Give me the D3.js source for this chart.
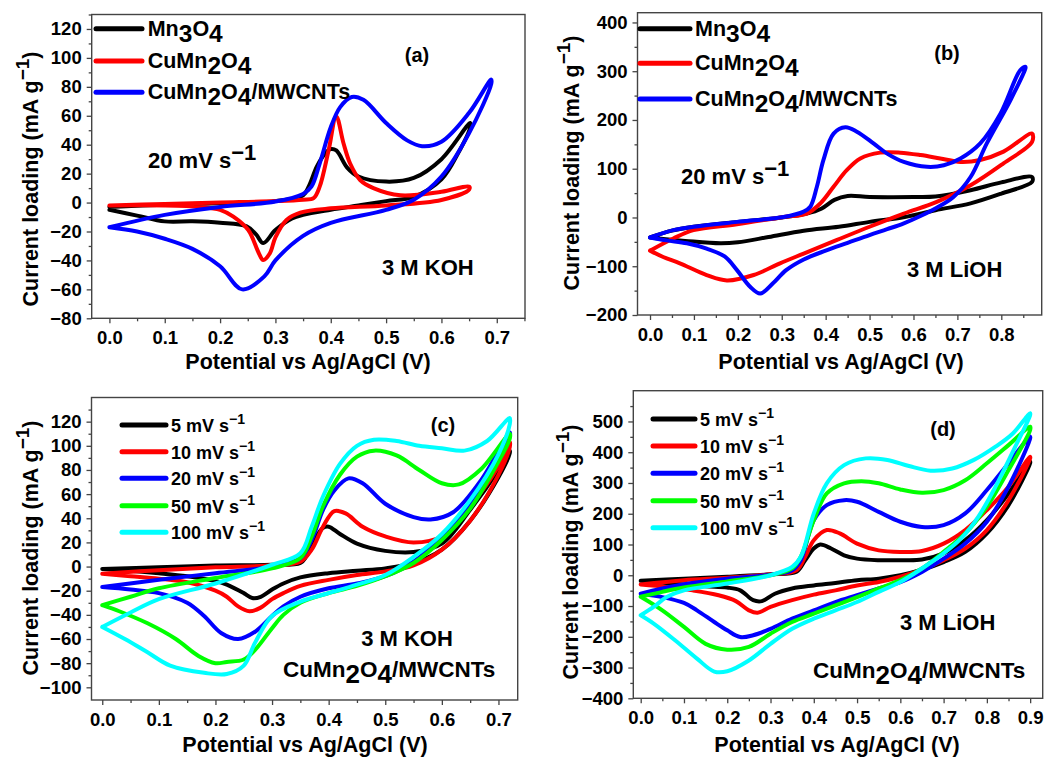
<!DOCTYPE html>
<html>
<head>
<meta charset="utf-8">
<script src="https://cdn.jsdelivr.net/npm/d3@7"></script>
<style>
body { margin: 0; background: #fff; }
text { font-family: "Liberation Sans", Arial, sans-serif; font-weight: bold; fill: #000; }
</style>
</head>
<body>
<div id="canvas"></div>
<script>
// ---- data: each loop is anodic sweep (0 -> Vmax) then cathodic sweep back, [V, mA/g]
var aMn3O4 = [[0,-3],[0.1,-1.5],[0.2,-0.5],[0.3,1],[0.35,5],[0.36,11],[0.375,25],[0.39,34],[0.4,37],[0.41,36],[0.43,24],[0.45,18],[0.5,14.5],[0.55,17],[0.6,30],[0.652,55],
	[0.652,52],[0.63,34],[0.6,16],[0.55,4],[0.5,1],[0.45,-2],[0.4,-5],[0.35,-8.5],[0.33,-11],[0.3,-19],[0.278,-28],[0.265,-22],[0.248,-16.5],[0.2,-14],[0.15,-13],[0.1,-13],[0.05,-9],[0,-5]];
var aCuMn2O4 = [[0,-2],[0.1,-1],[0.2,0],[0.3,1],[0.35,2],[0.369,3],[0.38,11],[0.396,36],[0.41,59.5],[0.423,41],[0.435,27],[0.453,15.6],[0.477,10],[0.526,5],[0.6,7.5],[0.65,11],
	[0.65,9],[0.6,1.8],[0.5,-2],[0.4,-4],[0.345,-7],[0.32,-12],[0.3,-24],[0.29,-35],[0.278,-39.7],[0.27,-35],[0.251,-19],[0.224,-9.7],[0.2,-5],[0.164,-3],[0.1,-2],[0,-2]];
var aComposite = [[0,-17],[0.1,-8.5],[0.2,-3],[0.3,0.7],[0.35,6],[0.365,11],[0.38,27],[0.4,52],[0.417,66],[0.438,73],[0.459,71],[0.5,55],[0.538,43],[0.565,39],[0.6,42],[0.65,62],[0.69,85],
	[0.69,82],[0.65,48],[0.6,18],[0.55,2],[0.5,-5],[0.4,-14],[0.35,-23],[0.3,-40],[0.28,-51],[0.24,-60],[0.2,-44],[0.15,-32],[0.1,-25],[0.05,-20],[0,-17]];

var bMn3O4 = [[0,-41],[0.05,-27],[0.1,-19],[0.2,-9],[0.3,0],[0.357,8],[0.39,18],[0.42,36],[0.45,44],[0.5,42],[0.6,42],[0.65,43],[0.73,56],[0.8,72],[0.87,83],
	[0.87,73],[0.8,49],[0.73,29],[0.65,15],[0.58,1],[0.5,-9],[0.43,-19],[0.35,-27],[0.27,-40],[0.2,-51],[0.16,-53],[0.08,-48],[0.03,-44],[0,-41]];
var bCuMn2O4 = [[0,-68],[0.053,-43],[0.099,-26],[0.198,-14],[0.304,1],[0.357,8],[0.388,29],[0.418,63],[0.448,97],[0.479,121],[0.524,133],[0.57,133],[0.616,128],[0.661,121],[0.707,114],[0.752,118],[0.805,135],[0.87,172],
	[0.87,155],[0.805,111],[0.73,66],[0.653,32],[0.578,8],[0.5,-19],[0.426,-46],[0.35,-74],[0.296,-94],[0.236,-118],[0.175,-129],[0.129,-118],[0.068,-94],[0.03,-81],[0,-68]];
var bComposite = [[0,-41],[0.053,-26],[0.099,-19],[0.198,-9],[0.304,1],[0.35,12],[0.365,22],[0.38,63],[0.395,118],[0.418,172],[0.445,185],[0.471,176],[0.509,152],[0.54,131],[0.578,114],[0.631,104],[0.669,107],[0.707,121],[0.752,152],[0.798,213],[0.843,302],[0.855,309],
	[0.855,306],[0.821,241],[0.767,152],[0.73,83],[0.691,42],[0.653,20],[0.616,3],[0.578,-12],[0.54,-24],[0.5,-36],[0.45,-52],[0.4,-68],[0.35,-86],[0.31,-108],[0.28,-135],[0.251,-156],[0.228,-142],[0.198,-108],[0.17,-80],[0.129,-64],[0.084,-53],[0.038,-47],[0,-41]];

var cScan5 = [[0,-2],[0.1,-0.5],[0.2,0.8],[0.3,1.4],[0.35,3],[0.36,8],[0.375,22],[0.39,32],[0.4,33],[0.42,27],[0.45,19],[0.5,13],[0.55,12],[0.6,19],[0.65,47],[0.7,80],[0.72,96],
	[0.72,94],[0.7,74],[0.65,38],[0.6,14],[0.55,3],[0.5,-1.5],[0.45,-3.5],[0.4,-5.5],[0.35,-9],[0.32,-14],[0.3,-19],[0.28,-25],[0.265,-26],[0.25,-22],[0.22,-15],[0.2,-12],[0.15,-8],[0.1,-5.5],[0.05,-3.5],[0,-2]];
var cScan10 = [[0,-6],[0.1,-3],[0.2,-0.6],[0.3,1],[0.35,4],[0.37,14],[0.39,33],[0.41,46],[0.43,44],[0.46,33],[0.5,25],[0.55,20],[0.6,25],[0.65,50],[0.7,83],[0.72,103],
	[0.72,99],[0.7,76],[0.65,38],[0.6,14],[0.55,1],[0.5,-4],[0.45,-7],[0.4,-11],[0.35,-16],[0.32,-22],[0.3,-27],[0.28,-34],[0.26,-37],[0.24,-33],[0.22,-25],[0.2,-20],[0.15,-13],[0.1,-10],[0.05,-8],[0,-6]];
var cScan20 = [[0,-17],[0.1,-11],[0.2,-5.5],[0.3,0],[0.35,7],[0.37,22],[0.39,47],[0.41,63],[0.435,73],[0.46,69],[0.5,52],[0.55,41],[0.58,39],[0.62,45],[0.67,72],[0.72,111],
	[0.72,108],[0.7,91],[0.65,52],[0.6,25],[0.55,4],[0.5,-8],[0.45,-14],[0.4,-18],[0.35,-25],[0.32,-33],[0.3,-41],[0.27,-54],[0.24,-60],[0.21,-55],[0.18,-41],[0.15,-30],[0.1,-22],[0.05,-19],[0,-17]];
var cScan50 = [[0,-32],[0.05,-25],[0.1,-18],[0.2,-9.5],[0.3,-1.5],[0.35,7],[0.37,25],[0.39,50],[0.42,76],[0.45,91],[0.48,96],[0.52,92],[0.56,80],[0.6,69],[0.63,68],[0.67,81],[0.72,110],
	[0.72,106],[0.7,87],[0.65,48],[0.6,22],[0.55,3],[0.5,-8],[0.45,-16],[0.4,-22],[0.35,-30],[0.32,-40],[0.3,-51],[0.27,-69],[0.25,-77],[0.22,-79],[0.2,-80],[0.17,-74],[0.13,-60],[0.08,-47],[0.03,-37],[0,-32]];
var cScan100 = [[0,-50],[0.05,-38],[0.1,-27],[0.2,-14],[0.3,1.5],[0.35,11],[0.37,33],[0.39,58],[0.42,85],[0.45,100],[0.48,105],[0.52,104],[0.56,100],[0.6,98],[0.64,96],[0.68,104],[0.72,123],
	[0.72,118],[0.7,93],[0.65,55],[0.6,27],[0.55,8],[0.5,-7],[0.45,-15],[0.4,-22],[0.35,-29],[0.3,-41],[0.27,-63],[0.25,-82],[0.22,-89],[0.18,-88],[0.12,-82],[0.08,-71],[0.04,-60],[0,-50]];

var dScan5 = [[0,-18],[0.1,-11],[0.2,-5],[0.3,3],[0.36,11],[0.38,49],[0.4,87],[0.415,100],[0.44,87],[0.47,65],[0.5,54],[0.55,49],[0.6,49],[0.65,51],[0.7,71],[0.75,114],[0.8,179],[0.85,266],[0.9,369],
	[0.9,365],[0.85,228],[0.8,136],[0.75,76],[0.7,43],[0.65,18],[0.6,0],[0.55,-11],[0.5,-16],[0.45,-25],[0.4,-33],[0.35,-43],[0.31,-60],[0.28,-84],[0.26,-81],[0.23,-49],[0.2,-40],[0.15,-36],[0.1,-30],[0.05,-24],[0,-18]];
var dScan10 = [[0,-30],[0.1,-16],[0.2,-8],[0.3,3],[0.36,16],[0.38,60],[0.4,114],[0.43,147],[0.46,136],[0.5,103],[0.55,81],[0.6,76],[0.65,79],[0.7,103],[0.75,147],[0.8,212],[0.85,288],[0.9,385],
	[0.9,380],[0.85,244],[0.8,147],[0.75,87],[0.7,49],[0.65,18],[0.6,-5],[0.55,-22],[0.5,-33],[0.45,-49],[0.4,-63],[0.35,-81],[0.3,-103],[0.27,-122],[0.25,-114],[0.22,-84],[0.18,-65],[0.12,-49],[0.06,-38],[0,-30]];
var dScan20 = [[0,-60],[0.05,-43],[0.1,-29],[0.2,-11],[0.3,2],[0.35,16],[0.37,49],[0.4,179],[0.43,228],[0.47,244],[0.5,239],[0.55,206],[0.6,174],[0.65,157],[0.7,163],[0.75,201],[0.8,277],[0.85,364],[0.9,451],
	[0.9,445],[0.85,288],[0.8,174],[0.75,103],[0.7,54],[0.65,11],[0.6,-22],[0.55,-43],[0.5,-65],[0.45,-87],[0.4,-114],[0.35,-141],[0.3,-174],[0.26,-195],[0.23,-201],[0.2,-179],[0.17,-152],[0.13,-114],[0.1,-90],[0.05,-71],[0,-60]];
var dScan50 = [[0,-70],[0.05,-54],[0.1,-40],[0.2,-20],[0.3,0],[0.35,22],[0.37,60],[0.4,179],[0.43,266],[0.47,299],[0.51,306],[0.55,299],[0.6,279],[0.65,268],[0.7,277],[0.75,309],[0.8,364],[0.85,423],[0.9,483],
	[0.9,472],[0.85,342],[0.8,223],[0.75,136],[0.7,76],[0.65,22],[0.6,-16],[0.55,-43],[0.5,-71],[0.45,-98],[0.4,-125],[0.35,-152],[0.3,-190],[0.25,-233],[0.2,-242],[0.15,-223],[0.1,-168],[0.05,-114],[0,-70]];
var dScan100 = [[0,-130],[0.03,-103],[0.06,-71],[0.1,-49],[0.2,-27],[0.3,0],[0.35,27],[0.37,60],[0.4,201],[0.43,299],[0.47,358],[0.52,380],[0.57,375],[0.62,355],[0.67,340],[0.72,347],[0.77,375],[0.82,418],[0.86,461],[0.9,527],
	[0.9,521],[0.86,402],[0.82,288],[0.78,190],[0.74,119],[0.7,71],[0.65,22],[0.6,-22],[0.55,-54],[0.5,-87],[0.45,-114],[0.4,-141],[0.35,-174],[0.3,-223],[0.25,-277],[0.2,-312],[0.17,-313],[0.13,-271],[0.08,-212],[0.03,-157],[0,-130]];

// legends and tick labels
var materialNames = ["Mn_3O_4", "CuMn_2O_4", "CuMn_2O_4/MWCNTs"];
var scanNames = ["5 mV s^{−1}", "10 mV s^{−1}", "20 mV s^{−1}", "50 mV s^{−1}", "100 mV s^{−1}"];
var materialColors = ["#000000", "#ff0000", "#0000ff"];
var scanColors = ["#000000", "#ff0000", "#0000ff", "#00ff00", "#00ffff"];

var aXTicks = [0, 0.1, 0.2, 0.3, 0.4, 0.5, 0.6, 0.7];
var aYTicks = [-80, -60, -40, -20, 0, 20, 40, 60, 80, 100, 120];
var bXTicks = [0, 0.1, 0.2, 0.3, 0.4, 0.5, 0.6, 0.7, 0.8];
var bYTicks = [-200, -100, 0, 100, 200, 300, 400];
var cXTicks = [0, 0.1, 0.2, 0.3, 0.4, 0.5, 0.6, 0.7];
var cYTicks = [-100, -80, -60, -40, -20, 0, 20, 40, 60, 80, 100, 120];
var dXTicks = [0, 0.1, 0.2, 0.3, 0.4, 0.5, 0.6, 0.7, 0.8, 0.9];
var dYTicks = [-400, -300, -200, -100, 0, 100, 200, 300, 400, 500];

var xTitle = "Potential vs Ag/AgCl (V)";
var yTitle = "Current loading (mA g^{−1})";

var svg = d3.select("#canvas")
	.append("svg")
	.attr("width", 1045)
	.attr("height", 758);

svg.append("rect").attr("width", 1045).attr("height", 758).attr("fill", "#fff");

var panels = [
	{ left: 91.7, right: 525, top: 14.5, bottom: 318.3, xDom: [-0.032, 0.751], yDom: [-80, 130],
	  xTicks: aXTicks, yTicks: aYTicks, xMinor: 0.05, yMinor: 10,
	  series: [aMn3O4, aCuMn2O4, aComposite], colors: materialColors,
	  yTitleX: 38, yTitleY: 179, xTitleX: 308, xTitleY: 369 },
	{ left: 637.5, right: 1041.7, top: 12.7, bottom: 315, xDom: [-0.0285, 0.892], yDom: [-200, 420],
	  xTicks: bXTicks, yTicks: bYTicks, xMinor: 0.05, yMinor: 50,
	  series: [bMn3O4, bCuMn2O4, bComposite], colors: materialColors,
	  yTitleX: 579, yTitleY: 163, xTitleX: 841, xTitleY: 369 },
	{ left: 91.5, right: 517.7, top: 397.5, bottom: 700, xDom: [-0.019, 0.734], yDom: [-110.5, 140],
	  xTicks: cXTicks, yTicks: cYTicks, xMinor: 0.05, yMinor: 10,
	  series: [cScan5, cScan10, cScan20, cScan50, cScan100], colors: scanColors,
	  yTitleX: 38, yTitleY: 548, xTitleX: 305, xTitleY: 752 },
	{ left: 633.3, right: 1042.7, top: 390.7, bottom: 698.3, xDom: [-0.0171, 0.929], yDom: [-400, 600],
	  xTicks: dXTicks, yTicks: dYTicks, xMinor: 0.05, yMinor: 50,
	  series: [dScan5, dScan10, dScan20, dScan50, dScan100], colors: scanColors,
	  yTitleX: 578, yTitleY: 552, xTitleX: 837, xTitleY: 752 }
];

// text with _x subscripts and ^{..} superscripts
function richText(textSel, str, subDy, supDy, supSize, subSize) {
	var re = /_(\{[^}]*\}|.)|\^(\{[^}]*\}|.)|[^_^]+/g;
	var m, shift = 0;
	while ((m = re.exec(str)) !== null) {
		var kind = "n", s = m[0];
		if (m[1] !== undefined) { kind = "sub"; s = m[1]; }
		else if (m[2] !== undefined) { kind = "sup"; s = m[2]; }
		s = s.replace(/^\{/, "").replace(/\}$/, "");
		var target = kind === "sub" ? subDy : (kind === "sup" ? -supDy : 0);
		var t = textSel.append("tspan").text(s).attr("dy", target - shift);
		if (kind === "sup" && supSize) t.attr("font-size", supSize);
		if (kind === "sub" && subSize) t.attr("font-size", subSize);
		shift = target;
	}
	return textSel;
}

function addText(x, y, str, size, anchor, subDy, supDy, supSize, subSize) {
	var t = svg.append("text")
		.attr("x", x)
		.attr("y", y)
		.attr("font-size", size)
		.attr("text-anchor", anchor || "start");
	return richText(t, str, subDy || 0, supDy || 0, supSize, subSize);
}

function drawPanel(p) {
	var g = svg.append("g");
	var x = d3.scaleLinear().domain(p.xDom).range([p.left, p.right]);
	var y = d3.scaleLinear().domain(p.yDom).range([p.bottom, p.top]);

	var xMinorTicks = d3.range(p.xTicks[0] + p.xMinor, p.xDom[1], p.xMinor * 2);
	var yMinorTicks = d3.range(p.yTicks[0] + p.yMinor, p.yDom[1] + 0.01, p.yMinor * 2);

	// minor ticks
	g.append("g")
		.attr("transform", "translate(0," + p.bottom + ")")
		.call(d3.axisBottom(x).tickValues(xMinorTicks).tickSize(3).tickFormat(""));
	g.append("g")
		.attr("transform", "translate(" + p.left + ",0)")
		.call(d3.axisLeft(y).tickValues(yMinorTicks).tickSize(3).tickFormat(""));

	// major ticks
	g.append("g")
		.attr("class", "xaxis")
		.attr("transform", "translate(0," + p.bottom + ")")
		.call(d3.axisBottom(x).tickValues(p.xTicks).tickSize(5).tickPadding(8).tickFormat(d3.format(".1f")));
	g.append("g")
		.attr("class", "yaxis")
		.attr("transform", "translate(" + p.left + ",0)")
		.call(d3.axisLeft(y).tickValues(p.yTicks).tickSize(5).tickPadding(5).tickFormat(d3.format("d")));

	g.selectAll(".domain").remove();
	g.selectAll(".tick line").attr("stroke", "#444").attr("stroke-width", 1.3);
	g.selectAll(".tick text")
		.attr("font-size", 18.5)
		.attr("font-family", "'Liberation Sans', Arial, sans-serif")
		.attr("font-weight", "bold")
		.attr("fill", "#000");

	// curves
	var line = d3.line()
		.x(function(d){ return x(d[0]); })
		.y(function(d){ return y(d[1]); })
		.curve(d3.curveCatmullRom.alpha(0.5));

	g.selectAll("path.cv")
		.data(p.series)
		.enter()
		.append("path")
		.attr("class", "cv")
		.attr("d", line)
		.attr("fill", "none")
		.attr("stroke", function(d, i){ return p.colors[i]; })
		.attr("stroke-width", 4)
		.attr("stroke-linejoin", "round")
		.attr("stroke-linecap", "round");

	// frame
	g.append("rect")
		.attr("x", p.left)
		.attr("y", p.top)
		.attr("width", p.right - p.left)
		.attr("height", p.bottom - p.top)
		.attr("fill", "none")
		.attr("stroke", "#444")
		.attr("stroke-width", 1.4);

	// axis titles
	addText(p.xTitleX, p.xTitleY, xTitle, 21.5, "middle");
	var yt = svg.append("text")
		.attr("transform", "translate(" + p.yTitleX + "," + p.yTitleY + ") rotate(-90)")
		.attr("font-size", 21.5)
		.attr("text-anchor", "middle");
	richText(yt, yTitle, 0, 9, 19);
}

function drawLegend(x0, x1, ys, names, colors, tx, size, subDy, supDy, supSize, subSize) {
	svg.selectAll(null)
		.data(names)
		.enter()
		.append("line")
		.attr("x1", x0)
		.attr("x2", x1)
		.attr("y1", function(d, i){ return ys[i]; })
		.attr("y2", function(d, i){ return ys[i]; })
		.attr("stroke", function(d, i){ return colors[i]; })
		.attr("stroke-width", 5)
		.attr("stroke-linecap", "round");
	names.forEach(function(n, i) {
		addText(tx, ys[i] + 7, n, size, "start", subDy, supDy, supSize, subSize);
	});
}

panels.forEach(drawPanel);

// panel (a)
drawLegend(96, 142, [28.7, 61, 92.3], materialNames, materialColors, 147.7, 21.5, 6, 0, null, 24.5);
addText(417, 62, "(a)", 20, "middle");
addText(148, 168, "20 mV s^{−1}", 22, "start", 0, 8, 22);
addText(382, 275, "3 M KOH", 22, "start");

// panel (b)
drawLegend(640, 690, [28.7, 63.3, 99], materialNames, materialColors, 695, 21.5, 6, 0, null, 24.5);
addText(947, 60, "(b)", 20, "middle");
addText(681, 184, "20 mV s^{−1}", 22, "start", 0, 8, 22);
addText(907, 277, "3 M LiOH", 22, "start");

// panel (c)
drawLegend(122, 166, [425, 451.7, 478.3, 505.7, 532.3], scanNames, scanColors, 171, 18, 0, 8, 14);
addText(443, 432, "(c)", 20, "middle");
addText(407, 646, "3 M KOH", 22, "middle");
addText(283, 677, "CuMn_2O_4/MWCNTs", 22.5, "start", 6, 0, null, 26);

// panel (d)
drawLegend(653, 695, [419, 446, 473.3, 500.7, 527.7], scanNames, scanColors, 700, 18, 0, 8, 14);
addText(943, 436, "(d)", 20, "middle");
addText(900, 630, "3 M LiOH", 22, "start");
addText(813, 678, "CuMn_2O_4/MWCNTs", 22.5, "start", 6, 0, null, 26);
</script>
</body>
</html>
